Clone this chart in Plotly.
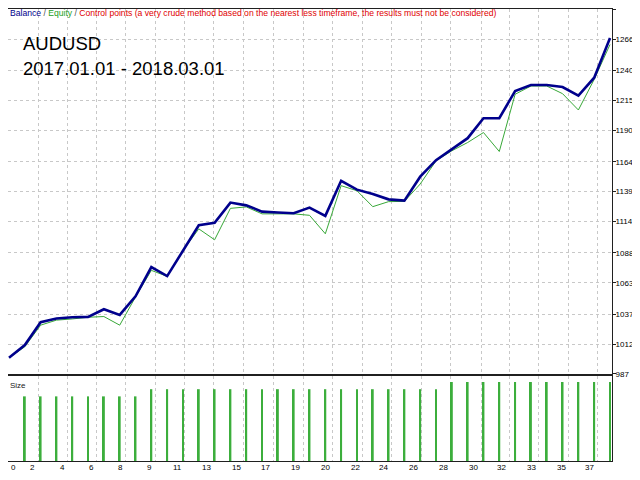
import plotly.graph_objects as go

# trade index 0..38
trades = list(range(39))
balance = [1000.5, 1011.1, 1030.2, 1033.3, 1034.3, 1034.6, 1041.0, 1036.3, 1051.8, 1076.1,
           1068.6, 1090.0, 1111.0, 1113.0, 1129.9, 1127.6, 1122.4, 1121.6, 1121.0, 1125.7,
           1118.8, 1148.1, 1140.7, 1137.1, 1132.6, 1131.5, 1151.5, 1165.3, 1174.5, 1183.6,
           1200.2, 1200.2, 1222.9, 1227.9, 1227.9, 1226.2, 1219.0, 1234.0, 1267.2]
equity = [1000.5, 1009.7, 1027.7, 1031.9, 1032.9, 1034.3, 1034.9, 1027.7, 1051.2, 1073.4,
          1068.4, 1090.0, 1108.0, 1098.9, 1125.1, 1126.3, 1120.5, 1120.7, 1120.5, 1119.3,
          1103.9, 1144.0, 1139.8, 1126.5, 1130.7, 1130.9, 1145.4, 1164.7, 1173.1, 1180.0,
          1188.3, 1172.5, 1220.2, 1227.1, 1227.1, 1220.7, 1207.1, 1232.6, 1261.7]

size_x = list(range(1, 39))
sizes = [0.09] * 8 + [0.10] * 19 + [0.11] * 11

y_ticks = [987, 1012, 1037, 1063, 1088, 1114, 1139, 1164, 1190, 1215, 1240, 1266, 1291]
x_grid = [0, 1.84, 3.7, 5.56, 7.39, 9.25, 11.1, 12.96, 14.84, 16.72, 18.6,
          20.48, 22.36, 24.17, 26.05, 27.93, 29.87, 31.62, 33.5, 35.38, 37.2]
x_labels = ["0", "2", "4", "6", "8", "9", "11", "13", "15", "17", "19",
            "20", "22", "24", "26", "28", "30", "32", "33", "35", "37"]

FONT = "Liberation Sans, Arial, sans-serif"
GRID = "#c8c8c8"
LINE = "#202020"

fig = go.Figure()
fig.add_trace(go.Scatter(x=trades, y=equity, mode="lines", name="Equity",
                         line=dict(color="#38a838", width=1), xaxis="x", yaxis="y"))
fig.add_trace(go.Scatter(x=trades, y=balance, mode="lines", name="Balance",
                         line=dict(color="#00008c", width=2.6), xaxis="x", yaxis="y"))
fig.add_trace(go.Bar(x=size_x, y=sizes, name="Size", width=0.12,
                     marker=dict(color="#3cae3c", line=dict(width=0)), xaxis="x2", yaxis="y2"))

x_common = dict(showline=True, mirror=True, linecolor=LINE, linewidth=1, zeroline=False,
                range=[-0.063, 38.126], tickvals=x_grid, showticklabels=False,
                showgrid=True, gridcolor=GRID, griddash="3px,3px", gridwidth=1)
fig.update_layout(
    width=632, height=464,
    margin=dict(l=0, r=28, t=1, b=11),
    paper_bgcolor="white", plot_bgcolor="white",
    showlegend=False,
    font=dict(family=FONT, size=8, color="black"),
    xaxis=dict(domain=[0, 1], anchor="y", **x_common),
    yaxis=dict(domain=[0.1925, 1], anchor="x", side="right", range=[987, 1291.3],
               tickvals=y_ticks, ticktext=[str(v) for v in y_ticks],
               ticks="outside", ticklen=3, tickcolor=LINE, ticklabelstandoff=-2,
               showgrid=True, gridcolor=GRID, griddash="3px,3px", gridwidth=1,
               showline=True, mirror=True, linecolor=LINE, linewidth=1, zeroline=False),
    xaxis2=dict(domain=[0, 1], anchor="y2", **x_common),
    yaxis2=dict(domain=[0, 0.1881], anchor="x2", range=[0, 0.1184], showgrid=False,
                showticklabels=False, showline=True, mirror=True, linecolor=LINE,
                linewidth=1, zeroline=False),
)

annotations = [
    dict(xref="paper", yref="paper", x=0, y=0.9912, xanchor="left", yanchor="middle",
         showarrow=False, font=dict(size=8.6, family=FONT),
         text='<span style="color:#00008c">Balance</span>'
              '<span style="color:#505050"> / </span>'
              '<span style="color:#22a022">Equity</span>'
              '<span style="color:#505050"> / </span>'
              '<span style="color:#e00000">Control points (a very crude method based on the nearest '
              'less timeframe, the results must not be considered)</span>'),
    dict(xref="paper", yref="paper", x=0.0215, y=0.9226, xanchor="left", yanchor="middle",
         showarrow=False, text="AUDUSD", font=dict(size=18.5, family=FONT, color="black")),
    dict(xref="paper", yref="paper", x=0.0215, y=0.8673, xanchor="left", yanchor="middle",
         showarrow=False, text="2017.01.01 - 2018.03.01",
         font=dict(size=18.5, family=FONT, color="black")),
    dict(xref="paper", yref="paper", x=0, y=0.1681, xanchor="left", yanchor="middle",
         showarrow=False, text="Size", font=dict(size=8, family=FONT, color=LINE)),
]
for xv, lab in zip(x_grid, x_labels):
    annotations.append(dict(xref="x2", yref="paper", x=xv, y=0, yanchor="top",
                            xanchor="left" if xv == 0 else "right",
                            xshift=0 if xv == 0 else -1,
                            showarrow=False, text=lab, font=dict(size=8, family=FONT)))
fig.update_layout(annotations=annotations)

fig.write_html("out.html")
